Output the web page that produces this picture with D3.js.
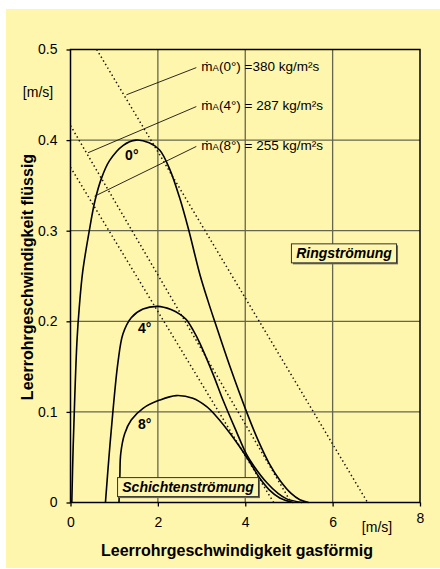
<!DOCTYPE html>
<html><head><meta charset="utf-8">
<script src="https://cdn.jsdelivr.net/npm/d3@7"></script>
<style>
html,body{margin:0;padding:0;background:#fff;}
svg{display:block;}
text{font-family:"Liberation Sans",Arial,Helvetica,sans-serif;}
</style></head>
<body>
<script>
// ---- data ----
const xTicks = [0, 2, 4, 6, 8];
const yTicks = [0, 0.1, 0.2, 0.3, 0.4, 0.5];
const xGrid = [2, 4, 6];
const yGrid = [0.1, 0.2, 0.3, 0.4];

// boundary curves (gas velocity [m/s], liquid velocity [m/s])
const curve0 = [[0.03,0],[0.06,0.06],[0.1,0.12],[0.15,0.18],[0.2,0.215],[0.28,0.255],[0.43,0.3],[0.56,0.333],[0.71,0.358],[0.89,0.377],[1.2,0.394],[1.5,0.4],[1.8,0.397],[2.04,0.389],[2.27,0.368],[2.5,0.336],[2.71,0.3],[2.96,0.252],[3.15,0.222],[3.3,0.2],[3.65,0.15],[4.03,0.1],[4.3,0.068],[4.55,0.043],[4.8,0.024],[5.05,0.01],[5.25,0.003],[5.45,0.0]];
const curve4 = [[0.8,0],[0.88,0.05],[0.97,0.1],[1.085,0.154],[1.2,0.186],[1.39,0.204],[1.66,0.2135],[2.0,0.2165],[2.3,0.213],[2.5,0.208],[2.65,0.202],[2.81,0.19],[2.96,0.176],[3.26,0.142],[3.5,0.112],[3.8,0.078],[4.03,0.053],[4.2,0.04],[4.49,0.022],[4.75,0.01],[4.95,0.004],[5.3,0.0]];
const curve8 = [[1.11,0],[1.13,0.03],[1.15,0.054],[1.24,0.076],[1.39,0.091],[1.66,0.104],[2.04,0.113],[2.42,0.118],[2.8,0.115],[3.11,0.106],[3.34,0.095],[3.65,0.0765],[3.88,0.061],[4.1,0.045],[4.33,0.027],[4.55,0.014],[4.79,0.005],[5.1,0.0]];

// constant mass-flux lines (dotted)
const flux0 = [[0.6,0.5],[6.8,0]];
const flux4 = [[0,0.416],[5.05,0]];
const flux8 = [[0,0.37],[4.65,0]];

// annotation leaders
const leader0 = [[2.88,0.480],[1.28,0.450]];
const leader4 = [[2.88,0.437],[0.40,0.386]];
const leader8 = [[2.88,0.393],[0.55,0.338]];
const fluxAngles = ["0°","4°","8°"];
const fluxTexts = [")\u00A0=380 kg/m²s", ") = 287 kg/m²s", ") = 255 kg/m²s"];
const curveLabels = ["0°","4°","8°"];

// ---- drawing ----
const W = 440, H = 569;
const svg = d3.select("body").append("svg").attr("width", W).attr("height", H);
svg.append("rect").attr("x",6).attr("y",9).attr("width",434).attr("height",559).attr("fill","#fff6ad");

const x = d3.scaleLinear().domain([0,8]).range([70.5,420]);
const y = d3.scaleLinear().domain([0,0.5]).range([502.5,49.5]);

// grid
const g = svg.append("g");
g.selectAll(".gx").data(xGrid).join("line")
  .attr("x1",d=>x(d)).attr("x2",d=>x(d)).attr("y1",y(0.5)).attr("y2",y(0))
  .attr("stroke","#66664e").attr("stroke-width",1.3);
g.selectAll(".gy").data(yGrid).join("line")
  .attr("x1",x(0)).attr("x2",x(8)).attr("y1",d=>y(d)).attr("y2",d=>y(d))
  .attr("stroke","#66664e").attr("stroke-width",1.3);

// axes
const fontSize = 14;
const ax = svg.append("g").attr("transform",`translate(0,${y(0)})`)
  .call(d3.axisBottom(x).tickValues(xTicks).tickSize(4).tickPadding(10.5).tickFormat(d3.format("d")));
ax.select(".domain").remove();
ax.selectAll("text").attr("font-size",fontSize).attr("fill","#000").attr("font-family","Liberation Sans, Arial, sans-serif")
  .attr("dy",(d)=> d===8 ? "0.42em" : "0.71em");
ax.selectAll("line").attr("stroke","#000").attr("stroke-width",1.3);

const ay = svg.append("g").attr("transform",`translate(${x(0)},0)`)
  .call(d3.axisLeft(y).tickValues(yTicks).tickSize(4).tickPadding(9).tickFormat(d=> d===0 ? "0" : d3.format(".1f")(d)));
ay.select(".domain").remove();
ay.selectAll("text").attr("font-size",fontSize).attr("fill","#000").attr("font-family","Liberation Sans, Arial, sans-serif");
ay.selectAll("line").attr("stroke","#000").attr("stroke-width",1.3);

// frame
svg.append("rect").attr("x",x(0)).attr("y",y(0.5)).attr("width",x(8)-x(0)).attr("height",y(0)-y(0.5))
  .attr("fill","none").attr("stroke","#000").attr("stroke-width",1.5);

const line = d3.line().x(d=>x(d[0])).y(d=>y(d[1]));

// dotted flux lines
[flux0, flux4, flux8].forEach(f=>{
  svg.append("path").attr("d",line(f)).attr("fill","none").attr("stroke","#111")
    .attr("stroke-width",1.5).attr("stroke-dasharray","1.4,2.8");
});

// boundary curves
const curveGen = d3.line().x(d=>x(d[0])).y(d=>y(d[1])).curve(d3.curveCatmullRom.alpha(0.5));
[curve0, curve4, curve8].forEach(c=>{
  svg.append("path").attr("d",curveGen(c)).attr("fill","none").attr("stroke","#000").attr("stroke-width",1.6);
});

// leaders and flux labels
[leader0, leader4, leader8].forEach((l,i)=>{
  svg.append("path").attr("d",line(l)).attr("fill","none").attr("stroke","#111").attr("stroke-width",0.9);
  const t = svg.append("text").attr("x",x(l[0][0])+5).attr("y",y(l[0][1])+3.5).attr("font-size",13.5).attr("fill","#000");
  t.append("tspan").attr("fill","#000").text("ṁ");
  t.append("tspan").attr("fill","#000").attr("font-size",9.5).text("A");
  t.append("tspan").attr("fill","#000").text("(" + fluxAngles[i] + fluxTexts[i]);
});

// curve labels
const labelPos = [[1.25,0.378],[1.545,0.187],[1.545,0.081]];
curveLabels.forEach((s,i)=>{
  svg.append("text").attr("x",x(labelPos[i][0])).attr("y",y(labelPos[i][1]))
    .attr("font-size",14).attr("font-weight","bold").attr("fill","#000").text(s);
});

// region boxes
function box(txt, cx, cy){
  const gg = svg.append("g");
  const t = gg.append("text").attr("x",x(cx)).attr("y",y(cy)).attr("text-anchor","middle")
    .attr("dy","0.35em").attr("font-size",14).attr("font-weight","bold").attr("font-style","italic").attr("fill","#000").text(txt);
  const b = t.node().getBBox();
  const pw = 4.5, bx = x(cx) - b.width/2 - pw, bw = b.width + 2*pw, by = y(cy) - 9.5, bh = 19;
  gg.insert("rect","text").attr("x",bx+1.5).attr("y",by+1.5).attr("width",bw).attr("height",bh).attr("fill","#6a6a55");
  gg.insert("rect","text").attr("x",bx).attr("y",by).attr("width",bw).attr("height",bh).attr("fill","#fff6ad").attr("stroke","#333").attr("stroke-width",1);
}
box("Ringströmung", 6.26, 0.275);
box("Schichtenströmung", 2.69, 0.017);

// axis titles & units
svg.append("text").attr("transform",`translate(33,${277}) rotate(-90)`).attr("text-anchor","middle")
  .attr("font-size",16).attr("font-weight","bold").attr("fill","#000").text("Leerrohrgeschwindigkeit flüssig");
svg.append("text").attr("x",237).attr("y",556).attr("text-anchor","middle")
  .attr("font-size",16).attr("font-weight","bold").attr("fill","#000").text("Leerrohrgeschwindigkeit gasförmig");
svg.append("text").attr("x",38).attr("y",97).attr("text-anchor","middle").attr("font-size",14).attr("fill","#000").text("[m/s]");
svg.append("text").attr("x",377).attr("y",532).attr("text-anchor","middle").attr("font-size",14).attr("fill","#000").text("[m/s]");
</script>
</body></html>
